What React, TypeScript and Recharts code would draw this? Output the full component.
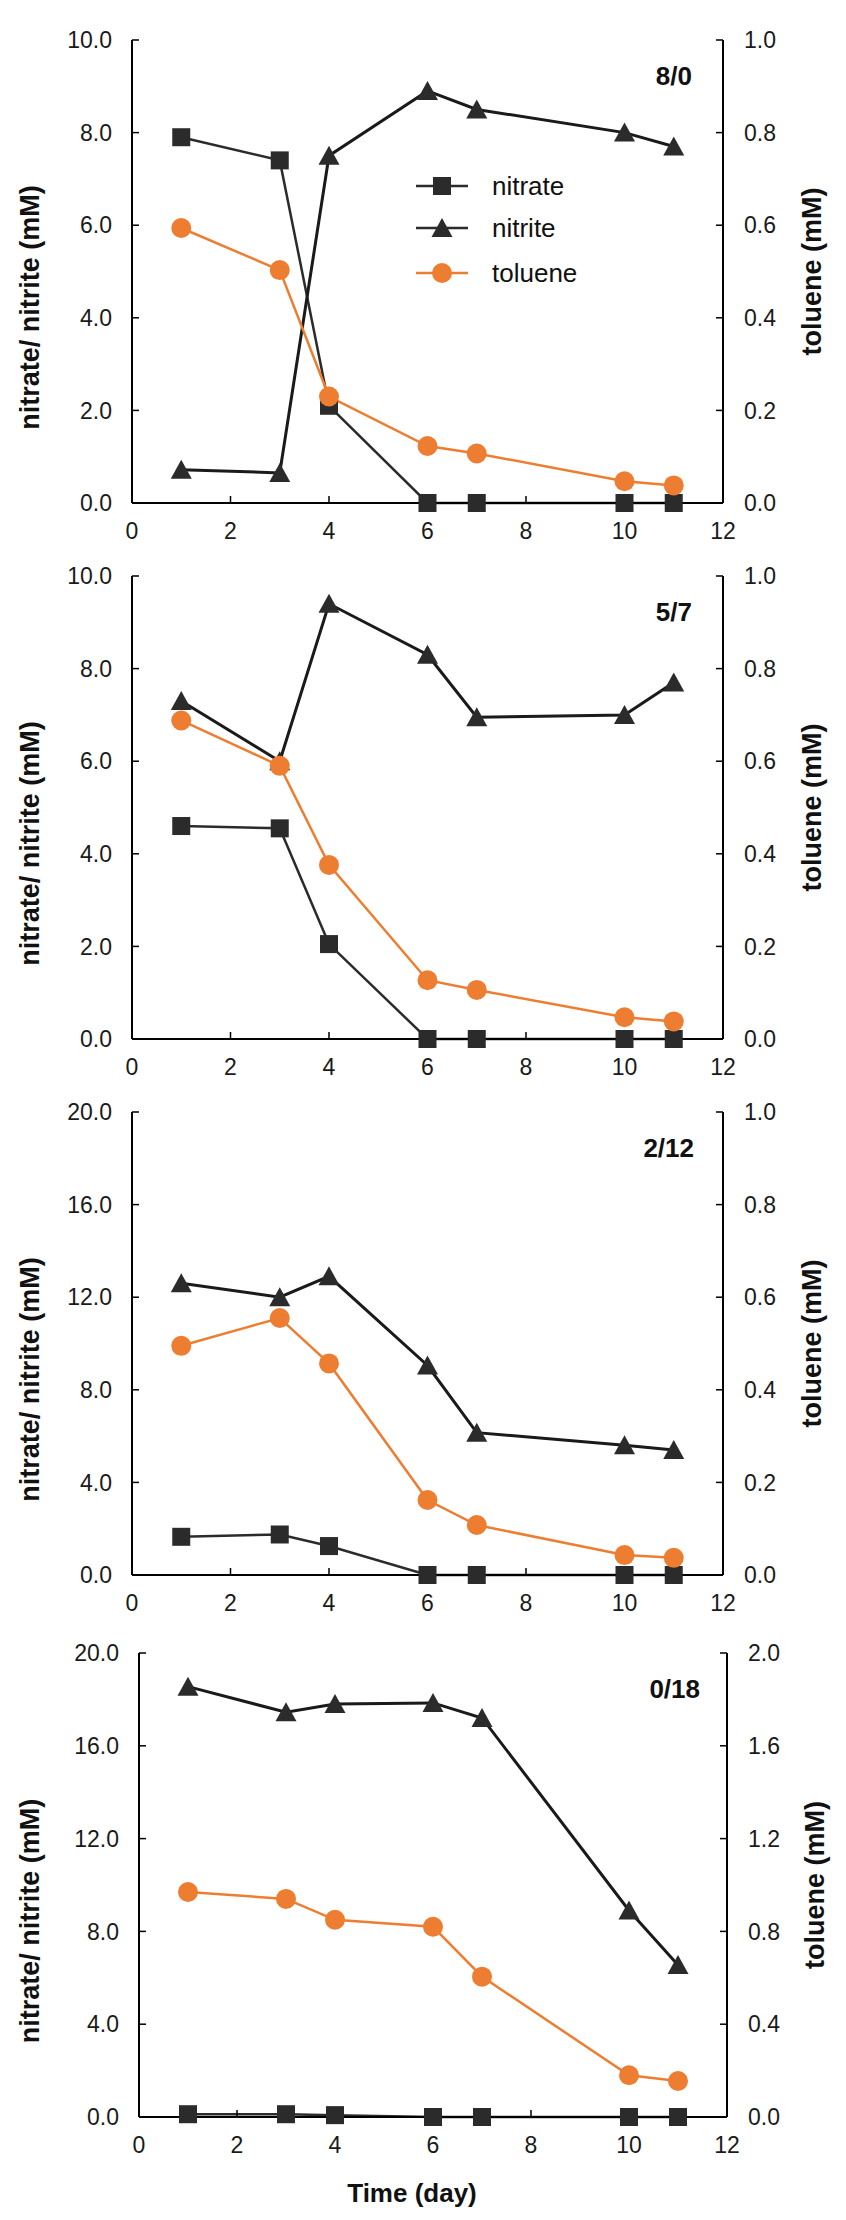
import { Legend, Line, LineChart, XAxis, YAxis } from "recharts"

// sampling days shared by every panel
const days = [1, 3, 4, 6, 7, 10, 11]
const xTicks = [0, 2, 4, 6, 8, 10, 12]

// left (nitrate / nitrite) and right (toluene) tick sets
const leftTicks10 = [0, 2, 4, 6, 8, 10]
const leftTicks20 = [0, 4, 8, 12, 16, 20]
const rightTicks1 = [0, 0.2, 0.4, 0.6, 0.8, 1.0]
const rightTicks2 = [0, 0.4, 0.8, 1.2, 1.6, 2.0]

const panelNames = ["8/0", "5/7", "2/12", "0/18"]

// 8/0
const nitrate80 = [7.9, 7.4, 2.1, 0, 0, 0, 0]
const nitrite80 = [0.72, 0.65, 7.5, 8.9, 8.5, 8.0, 7.7]
const toluene80 = [0.594, 0.503, 0.23, 0.123, 0.107, 0.047, 0.038]

// 5/7
const nitrate57 = [4.6, 4.55, 2.05, 0, 0, 0, 0]
const nitrite57 = [7.3, 6.0, 9.4, 8.3, 6.95, 7.0, 7.7]
const toluene57 = [0.688, 0.59, 0.376, 0.127, 0.106, 0.047, 0.038]

// 2/12
const nitrate212 = [1.65, 1.75, 1.25, 0, 0, 0, 0]
const nitrite212 = [12.6, 12.0, 12.9, 9.05, 6.15, 5.6, 5.4]
const toluene212 = [0.495, 0.555, 0.457, 0.162, 0.108, 0.043, 0.037]

// 0/18
const nitrate018 = [0.12, 0.12, 0.08, 0, 0, 0, 0]
const nitrite018 = [18.55, 17.45, 17.8, 17.85, 17.2, 8.9, 6.55]
const toluene018 = [0.97, 0.94, 0.85, 0.82, 0.605, 0.18, 0.155]

const FONT = "'Liberation Sans', Arial, Helvetica, sans-serif"
const DARK = "#2b2b2b"
const ORANGE = "#ED7D31"

const panels = [
  { name: panelNames[0], nitrate: nitrate80, nitrite: nitrite80, toluene: toluene80, leftMax: 10, leftTicks: leftTicks10, rightMax: 1, rightTicks: rightTicks1 },
  { name: panelNames[1], nitrate: nitrate57, nitrite: nitrite57, toluene: toluene57, leftMax: 10, leftTicks: leftTicks10, rightMax: 1, rightTicks: rightTicks1 },
  { name: panelNames[2], nitrate: nitrate212, nitrite: nitrite212, toluene: toluene212, leftMax: 20, leftTicks: leftTicks20, rightMax: 1, rightTicks: rightTicks1 },
  { name: panelNames[3], nitrate: nitrate018, nitrite: nitrite018, toluene: toluene018, leftMax: 20, leftTicks: leftTicks20, rightMax: 2, rightTicks: rightTicks2 },
]

// page placement of each panel (chart top, chart height, margins)
const layouts = [
  { top: 0, height: 560, left: 32, right: 23, bottom: 27, labelRight: 154, rightTitleX: 812 },
  { top: 536, height: 560, left: 32, right: 23, bottom: 27, labelRight: 154, rightTitleX: 812 },
  { top: 1072, height: 560, left: 32, right: 23, bottom: 27, labelRight: 152, rightTitleX: 812 },
  { top: 1613, height: 600, left: 39, right: 19, bottom: 66, labelRight: 146, rightTitleX: 815 },
]

const tickStyle = { fontSize: 23, fontFamily: FONT, fill: "#1a1a1a" }

const SquareDot = (props: any) => {
  const { cx, cy, index } = props
  if (cx == null || cy == null) return <g key={`sq-${index}`} />
  return <rect key={`sq-${index}`} x={cx - 9} y={cy - 9} width={18} height={18} fill={DARK} />
}

const TriangleDot = (props: any) => {
  const { cx, cy, index } = props
  if (cx == null || cy == null) return <g key={`tr-${index}`} />
  return (
    <polygon
      key={`tr-${index}`}
      points={`${cx},${cy - 10} ${cx + 10.5},${cy + 9} ${cx - 10.5},${cy + 9}`}
      fill={DARK}
    />
  )
}

const CircleDot = (props: any) => {
  const { cx, cy, index } = props
  if (cx == null || cy == null) return <g key={`ci-${index}`} />
  return <circle key={`ci-${index}`} cx={cx} cy={cy} r={10} fill={ORANGE} />
}

const legendItems = [
  { label: "nitrate", color: DARK, lineWidth: 2.5, marker: "square", y: 186 },
  { label: "nitrite", color: DARK, lineWidth: 2.5, marker: "triangle", y: 228 },
  { label: "toluene", color: ORANGE, lineWidth: 2.5, marker: "circle", y: 273 },
]

const renderLegend = () => (
  <div style={{ position: "relative", width: 220, height: 130 }}>
    {legendItems.map((item) => (
      <div
        key={item.label}
        style={{ position: "absolute", left: 0, top: item.y - 168 - 20, height: 40, display: "flex", alignItems: "center" }}
      >
        <svg width={60} height={40}>
          <line x1={6} x2={58} y1={20} y2={20} stroke={item.color} strokeWidth={item.lineWidth} />
          {item.marker === "square" && <rect x={23} y={11} width={18} height={18} fill={item.color} />}
          {item.marker === "triangle" && <polygon points="32,10 42.5,29 21.5,29" fill={item.color} />}
          {item.marker === "circle" && <circle cx={32} cy={20} r={10} fill={item.color} />}
        </svg>
        <span style={{ marginLeft: 22, fontFamily: FONT, fontSize: 26, color: "#111" }}>{item.label}</span>
      </div>
    ))}
  </div>
)

function Panel({ index }: { index: number }) {
  const p = panels[index]
  const l = layouts[index]
  const data = days.map((day, i) => ({
    day,
    nitrate: p.nitrate[i],
    nitrite: p.nitrite[i],
    toluene: p.toluene[i],
  }))
  const isLast = index === panels.length - 1

  const leftTitle = ({ viewBox }: any) => {
    const cx = 30
    const cy = viewBox.y + viewBox.height / 2 + 36
    return (
      <text
        x={cx}
        y={cy}
        transform={`rotate(-90 ${cx} ${cy})`}
        textAnchor="middle"
        dominantBaseline="central"
        style={{ fontFamily: FONT, fontSize: 27, fontWeight: 700, fill: "#111" }}
      >
        nitrate/ nitrite (mM)
      </text>
    )
  }

  const rightTitle = ({ viewBox }: any) => {
    const cx = l.rightTitleX
    const cy = viewBox.y + viewBox.height / 2
    return (
      <text
        x={cx}
        y={cy}
        transform={`rotate(-90 ${cx} ${cy})`}
        textAnchor="middle"
        dominantBaseline="central"
        style={{ fontFamily: FONT, fontSize: 27, fontWeight: 700, fill: "#111" }}
      >
        toluene (mM)
      </text>
    )
  }

  const timeTitle = ({ viewBox }: any) => (
    <text
      x={viewBox.x + viewBox.width / 2 - 21}
      y={viewBox.y + 76}
      textAnchor="middle"
      dominantBaseline="central"
      style={{ fontFamily: FONT, fontSize: 26, fontWeight: 700, fill: "#111" }}
    >
      Time (day)
    </text>
  )

  return (
    <div style={{ position: "absolute", left: 0, top: l.top, width: 846, height: l.height }}>
      <LineChart
        width={846}
        height={l.height}
        data={data}
        margin={{ top: 40, right: l.right, bottom: l.bottom, left: l.left }}
      >
        <XAxis
          dataKey="day"
          type="number"
          domain={[0, 12]}
          ticks={xTicks}
          tick={tickStyle}
          tickSize={-7}
          tickMargin={27}
          height={30}
          stroke="#000"
          axisLine={{ stroke: "#000", strokeWidth: 2 }}
          tickLine={{ stroke: "#000", strokeWidth: 1.5 }}
          label={isLast ? { content: timeTitle } : undefined}
        />
        <XAxis xAxisId="top" orientation="top" type="number" domain={[0, 12]} height={0} tick={false} tickLine={false} axisLine={{ stroke: "#000", strokeWidth: 2 }} />
        <YAxis
          yAxisId="left"
          type="number"
          domain={[0, p.leftMax]}
          ticks={p.leftTicks}
          tickFormatter={(v: number) => v.toFixed(1)}
          tick={tickStyle}
          tickSize={-7}
          tickMargin={27}
          width={100}
          axisLine={{ stroke: "#000", strokeWidth: 2 }}
          tickLine={{ stroke: "#000", strokeWidth: 1.5 }}
          label={{ content: leftTitle }}
        />
        <YAxis
          yAxisId="right"
          orientation="right"
          type="number"
          domain={[0, p.rightMax]}
          ticks={p.rightTicks}
          tickFormatter={(v: number) => v.toFixed(1)}
          tick={tickStyle}
          tickSize={-7}
          tickMargin={28}
          width={100}
          axisLine={{ stroke: "#000", strokeWidth: 2 }}
          tickLine={{ stroke: "#000", strokeWidth: 1.5 }}
          label={{ content: rightTitle }}
        />
        <Line
          yAxisId="left"
          dataKey="nitrate"
          stroke={DARK}
          strokeWidth={2.5}
          dot={SquareDot}
          activeDot={false}
          isAnimationActive={false}
        />
        <Line
          yAxisId="left"
          dataKey="nitrite"
          stroke="#1a1a1a"
          strokeWidth={3}
          dot={TriangleDot}
          activeDot={false}
          isAnimationActive={false}
        />
        <Line
          yAxisId="right"
          dataKey="toluene"
          stroke={ORANGE}
          strokeWidth={2.5}
          dot={CircleDot}
          activeDot={false}
          isAnimationActive={false}
        />
        {index === 0 && (
          <Legend
            layout="vertical"
            align="center"
            verticalAlign="middle"
            wrapperStyle={{ left: 410, top: 168, width: 220, height: 130 }}
            content={renderLegend}
          />
        )}
      </LineChart>
      <div
        style={{
          position: "absolute",
          right: l.labelRight,
          top: 40 + 36 - 16,
          fontFamily: FONT,
          fontWeight: 700,
          fontSize: 26,
          lineHeight: "32px",
          color: "#111",
        }}
      >
        {p.name}
      </div>
    </div>
  )
}

export default function App() {
  return (
    <div style={{ position: "absolute", left: 0, top: 0, width: 846, height: 2220, background: "#fff" }}>
      {panels.map((_, i) => (
        <Panel key={i} index={i} />
      ))}
    </div>
  )
}
